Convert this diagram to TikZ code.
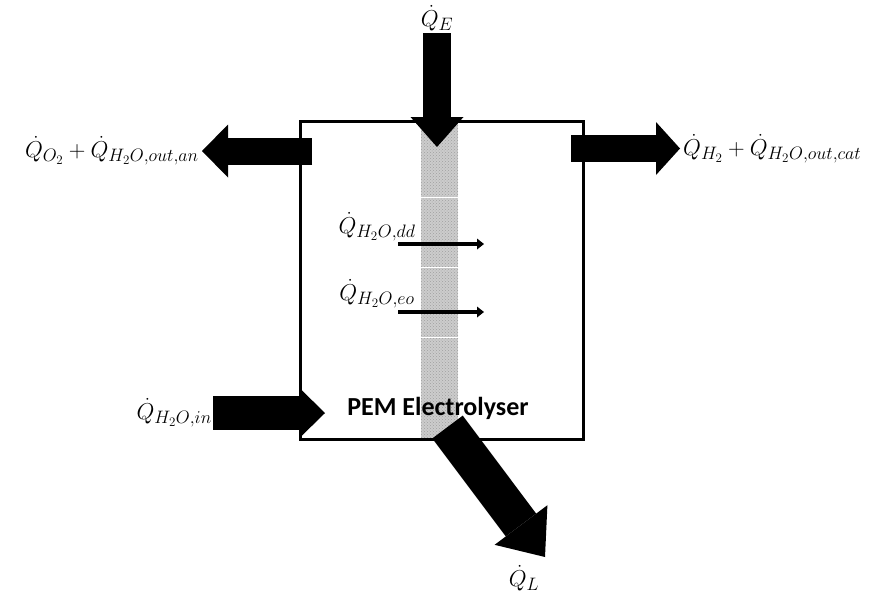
\RequirePackage{fix-cm}
\documentclass[tikz,border=0pt]{standalone}
\usepackage{fontspec}
\newfontfamily\calibri{Carlito}
\DeclareMathSizes{23}{23}{18}{13}
\usetikzlibrary{arrows.meta,patterns}
\begin{document}
\begin{tikzpicture}[x=1pt,y=-1pt,
  bigarrow/.style n args={3}{draw=black,line width=#1,line cap=butt,
     -{Triangle[width=#2,length=#3,line width=0pt]}},
  smallarrow/.style={draw=black,line width=4.5pt,line cap=butt,
     -{Triangle[width=11pt,length=7pt,line width=0pt]}},
  mlabel/.style={inner sep=0pt,font=\fontsize{23}{26}\selectfont},
  boxline/.style={draw=black,line width=3pt,line join=miter}]
\useasboundingbox (0,0) rectangle (877,595);

% membrane
\fill[gray!40] (421,121) rectangle (458,439);
\fill[pattern=crosshatch dots,pattern color=gray!75] (421,121) rectangle (458,439);
\foreach \yy in {197,267,337}
  \draw[white,line width=1pt] (421,\yy) -- (458,\yy);

% box
\draw[boxline] (300,121) rectangle (583,439);

% coordinates
\coordinate (QEs) at (437,33);
\coordinate (QEt) at (437,147);
\coordinate (QOs) at (312,151);
\coordinate (QOt) at (202,151);
\coordinate (QHs) at (571,148.5);
\coordinate (QHt) at (680,148.5);
\coordinate (Qins) at (213,413);
\coordinate (Qint) at (325,413);
\coordinate (QLs) at (447.5,427);
\coordinate (QLt) at (545,557);
\coordinate (dds) at (398,244);
\coordinate (ddt) at (484,244);
\coordinate (eos) at (398,312);
\coordinate (eot) at (484,312);

% text
\node[font=\calibri\bfseries\fontsize{26}{30}\selectfont,inner sep=0pt] (pem) at (438,408) {PEM Electrolyser};

% small arrows
\draw[smallarrow] (dds) -- (ddt);
\draw[smallarrow] (eos) -- (eot);

% big arrows
\draw[bigarrow={28pt}{53pt}{30pt}] (QEs) -- (QEt);
\draw[bigarrow={27pt}{53pt}{26pt}] (QOs) -- (QOt);
\draw[bigarrow={27pt}{53pt}{24pt}] (QHs) -- (QHt);
\draw[bigarrow={34pt}{49pt}{25pt}] (Qins) -- (Qint);
\draw[bigarrow={38pt}{66pt}{40pt}] (QLs) -- (QLt);

% labels
\node[mlabel,above=2pt] (QE) at (QEs) {$\dot{Q}_E$};
\node[mlabel,left=3pt] (QO) at (QOt) {$\dot{Q}_{O_2}+\dot{Q}_{H_2O,out,an}$};
\node[mlabel,right=3pt] (QH) at (QHt) {$\dot{Q}_{H_2}+\dot{Q}_{H_2O,out,cat}$};
\node[mlabel,left=1pt] (Qin) at (Qins) {$\dot{Q}_{H_2O,in}$};
\node[mlabel] (QL) at (524,578) {$\dot{Q}_L$};
\node[mlabel] (Qdd) at (377,227) {$\dot{Q}_{H_2O,dd}$};
\node[mlabel] (Qeo) at (377,294) {$\dot{Q}_{H_2O,eo}$};
\end{tikzpicture}
\end{document}
